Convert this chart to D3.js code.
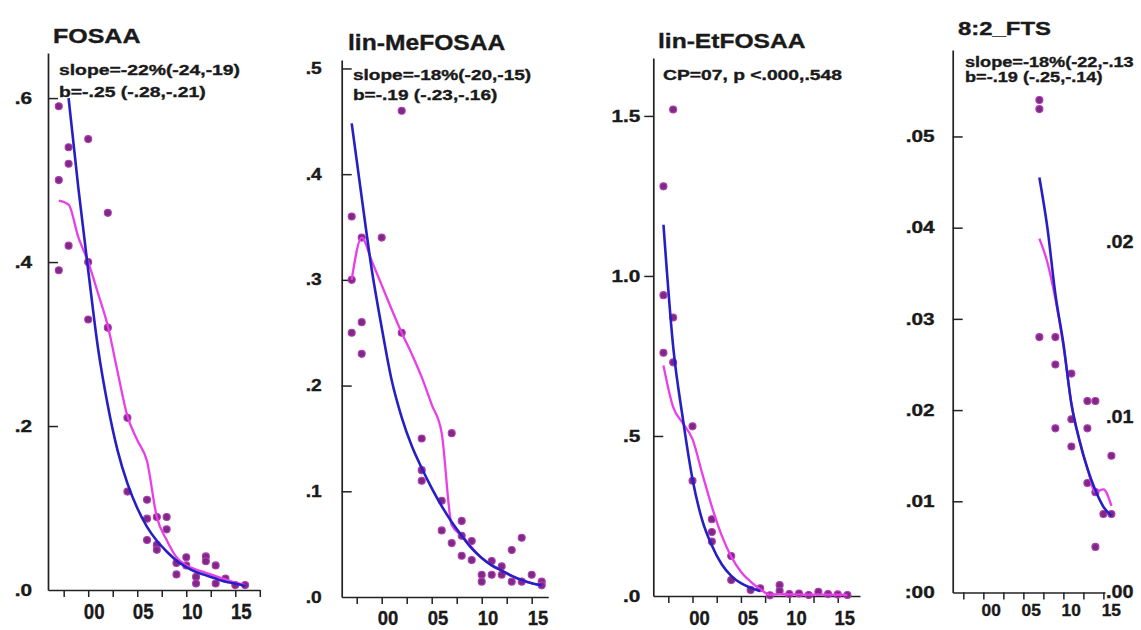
<!DOCTYPE html>
<html>
<head>
<meta charset="utf-8">
<script src="https://cdn.jsdelivr.net/npm/d3@7"></script>
<style>
  body { margin: 0; background: #fff; }
  svg text { font-family: "Liberation Sans", Arial, Helvetica, sans-serif; font-weight: bold; fill: #1a1a1a; stroke: #1a1a1a; stroke-width: 0.35px; }
</style>
</head>
<body>
<svg id="chart" width="1141" height="630"></svg>
<script>
// ---------- FOSAA ----------
const fosaaYears  = [1997,1997,1997,1998,1998,1998,2000,2000,2000,2002,2002,2004,2004,2006,2006,2006,2007,2007,2007,2008,2008,2009,2009,2010,2010,2011,2011,2012,2012,2013,2013,2014,2015,2016];
const fosaaValues = [0.59,0.50,0.39,0.54,0.52,0.42,0.55,0.40,0.33,0.46,0.32,0.21,0.12,0.11,0.087,0.061,0.089,0.055,0.049,0.089,0.074,0.033,0.019,0.040,0.030,0.016,0.008,0.041,0.035,0.030,0.008,0.014,0.006,0.006];
const fosaaFitYears = [1998,1999,2000,2001,2002,2003,2004,2005,2006,2007,2008,2009,2010,2011,2012,2013,2014,2015,2016];
const fosaaFit      = [0.60,0.49,0.39,0.295,0.225,0.17,0.13,0.10,0.077,0.060,0.047,0.036,0.028,0.022,0.018,0.014,0.010,0.008,0.005];
const fosaaSmoothYears = [1997,1998,1999,2000,2001,2002,2003,2004,2005,2006,2007,2008,2009,2010,2011,2012,2013,2014,2015,2016];
const fosaaSmooth      = [0.475,0.47,0.43,0.40,0.362,0.322,0.266,0.212,0.183,0.157,0.089,0.061,0.040,0.030,0.025,0.021,0.017,0.013,0.009,0.006];

// ---------- lin-MeFOSAA ----------
const meYears  = [1997,1997,1997,1998,1998,1998,2000,2002,2002,2004,2004,2004,2006,2006,2007,2007,2008,2008,2008,2009,2009,2010,2010,2011,2011,2012,2012,2013,2013,2014,2014,2015,2016,2016];
const meValues = [0.36,0.30,0.25,0.34,0.26,0.23,0.34,0.46,0.25,0.15,0.12,0.11,0.091,0.063,0.155,0.051,0.072,0.058,0.039,0.053,0.035,0.021,0.0145,0.034,0.021,0.029,0.021,0.0445,0.0145,0.056,0.0145,0.021,0.0145,0.011];
const meFitYears = [1997,1998,1999,2000,2001,2002,2003,2004,2005,2006,2007,2008,2009,2010,2011,2012,2013,2014,2015,2016];
const meFit      = [0.448,0.378,0.31,0.255,0.205,0.170,0.143,0.122,0.103,0.086,0.071,0.058,0.046,0.037,0.030,0.025,0.020,0.016,0.013,0.011];
const meSmoothYears = [1997,1998,1999,2000,2001,2002,2003,2004,2005,2006,2007,2008,2009,2010,2011,2012,2013,2014,2015,2016];
const meSmooth      = [0.30,0.34,0.318,0.295,0.272,0.25,0.23,0.208,0.182,0.155,0.068,0.058,0.047,0.037,0.030,0.025,0.020,0.016,0.013,0.011];

// ---------- lin-EtFOSAA ----------
const etYears  = [1997,1997,1997,1998,1998,1998,2000,2000,2002,2002,2002,2004,2004,2006,2007,2008,2009,2009,2010,2011,2012,2013,2014,2015,2016];
const etValues = [1.28,0.94,0.76,1.52,0.87,0.73,0.53,0.36,0.24,0.20,0.17,0.125,0.05,0.019,0.024,0.002,0.034,0.016,0.006,0.008,0.003,0.013,0.006,0.005,0.003];
const etFitYears = [1997,1998,1999,2000,2001,2002,2003,2004,2005,2006,2007];
const etFit      = [1.16,0.78,0.555,0.365,0.237,0.158,0.10,0.063,0.040,0.026,0.016];
const etSmoothYears = [1997,1998,1999,2000,2001,2002,2003,2004,2005,2006,2007,2008,2009,2010,2011,2012,2013,2014,2015,2016];
const etSmooth      = [0.72,0.59,0.54,0.49,0.383,0.279,0.19,0.123,0.076,0.045,0.021,0.004,0.006,0.005,0.005,0.004,0.005,0.004,0.004,0.003];

// ---------- 8:2_FTS ----------
const ftsYears  = [2007,2007,2007,2009,2009,2009,2011,2011,2011,2013,2013,2013,2014,2014,2014,2015,2016,2016];
const ftsValues = [0.054,0.053,0.028,0.028,0.025,0.018,0.024,0.019,0.016,0.021,0.018,0.012,0.021,0.011,0.005,0.0086,0.0086,0.015];
const ftsFitYears = [2007,2008,2009,2010,2011,2012,2013,2014,2015,2016];
const ftsFit      = [0.0455,0.0400,0.0327,0.0273,0.0207,0.0167,0.0136,0.0112,0.0094,0.0084];
const ftsSmoothYears = [2007,2008,2009,2010,2011,2012,2013,2014,2015,2016];
const ftsSmooth      = [0.0388,0.0362,0.0322,0.0271,0.0207,0.0167,0.0136,0.0110,0.0113,0.0095];

// ---------- titles, annotations, ticks ----------
const titles = ["FOSAA", "lin-MeFOSAA", "lin-EtFOSAA", "8:2_FTS"];
const notes = [
  ["slope=-22%(-24,-19)", "b=-.25 (-.28,-.21)"],
  ["slope=-18%(-20,-15)", "b=-.19 (-.23,-.16)"],
  ["CP=07, p <.000,.548"],
  ["slope=-18%(-22,-.13", "b=-.19 (-.25,-.14)"]
];
const xTickMarksLong = [1997.5,2000,2002.5,2005,2007.5,2010,2012.5,2015,2017.5];
const xTickMarks     = [1997.5,2000,2002.5,2005,2007.5,2010,2012.5,2015];
const xLabelYears = [2000, 2005, 2010, 2015];
const xLabels     = ["00", "05", "10", "15"];

const fosaaYTicks  = [0, 0.2, 0.4, 0.6];
const fosaaYLabels = [".0", ".2", ".4", ".6"];
const meYTicks  = [0, 0.1, 0.2, 0.3, 0.4, 0.5];
const meYLabels = [".0", ".1", ".2", ".3", ".4", ".5"];
const etYTicks  = [0, 0.5, 1.0, 1.5];
const etYLabels = [".0", ".5", "1.0", "1.5"];
const ftsYTicks  = [0, 0.01, 0.02, 0.03, 0.04, 0.05];
const ftsYLabels = [":00", ".01", ".02", ".03", ".04", ".05"];
const ftsRightTicks  = [0, 0.01, 0.02];
const ftsRightLabels = [".00", ".01", ".02"];

// ---------- panel assembly ----------
const zip = (a, b) => a.map((v, i) => [v, b[i]]);
const panels = [
  { pts: zip(fosaaYears, fosaaValues), fit: zip(fosaaFitYears, fosaaFit), smooth: zip(fosaaSmoothYears, fosaaSmooth),
    xTicks: xTickMarksLong, yTicks: fosaaYTicks, yLabels: fosaaYLabels },
  { pts: zip(meYears, meValues), fit: zip(meFitYears, meFit), smooth: zip(meSmoothYears, meSmooth),
    xTicks: xTickMarks, yTicks: meYTicks, yLabels: meYLabels },
  { pts: zip(etYears, etValues), fit: zip(etFitYears, etFit), smooth: zip(etSmoothYears, etSmooth),
    xTicks: xTickMarks, yTicks: etYTicks, yLabels: etYLabels },
  { pts: zip(ftsYears, ftsValues), fit: zip(ftsFitYears, ftsFit), smooth: zip(ftsSmoothYears, ftsSmooth),
    xTicks: xTickMarks, yTicks: ftsYTicks, yLabels: ftsYLabels }
];

// ---------- geometry & type per panel ----------
const layout = [
  { xDomain: [1995.9, 2017.5], left: 48, right: 259.8, bottom: 590, top: 53, yMax: 0.655,
    yPad: 16, ySize: 16, ySx: 1.3, xPad: 6, xSize: 22, xSx: 0.85, xDx: 6.5,
    title: { x: 53, y: 43, size: 20, sx: 1.25 },
    note: { x: 59, y: [75, 97], size: 15, sx: 1.29 } },
  { xDomain: [1996.0, 2016.65], left: 341.7, right: 548.2, bottom: 597, top: 60, yMax: 0.508,
    yPad: 20, ySize: 16, ySx: 1.2, xPad: 6, xSize: 21, xSx: 0.88, xDx: 6.5,
    title: { x: 348, y: 50, size: 22, sx: 1.12 },
    note: { x: 353, y: [80, 100], size: 15, sx: 1.27 } },
  { xDomain: [1995.95, 2017.3], left: 653.3, right: 860, bottom: 596, top: 58, yMax: 1.681,
    yPad: 13, ySize: 16, ySx: 1.3, xPad: 7, xSize: 21, xSx: 0.88, xDx: 7.5,
    title: { x: 658, y: 48, size: 20.5, sx: 1.2 },
    note: { x: 663, y: [80], size: 14.5, sx: 1.33 } },
  { xDomain: [1996.17, 2015.2], left: 952.7, right: 1105, bottom: 592.5, top: 50, yMax: 0.05948,
    yPad: 18, ySize: 16, ySx: 1.3, xPad: 5, xSize: 16.5, xSx: 1.05, xDx: 7,
    title: { x: 958, y: 35, size: 18, sx: 1.33 },
    note: { x: 965, y: [67, 82], size: 14.5, sx: 1.25 } }
];

const svg = d3.select("#chart");
svg.append("rect").attr("width", 1141).attr("height", 630).attr("fill", "#fff");

// horizontal stretch of a text node around its anchor point
function stretch(sel, sx) {
  sel.each(function () {
    const t = d3.select(this);
    const x = +t.attr("x") || 0, y = +t.attr("y") || 0;
    t.attr("x", 0).attr("y", 0).attr("transform", `translate(${x},${y}) scale(${sx},1)`);
  });
}

function styleAxis(g) {
  g.attr("font-size", null).attr("font-family", null);
  g.select(".domain").attr("stroke", "#222").attr("stroke-width", 1.7);
  g.selectAll(".tick line").attr("stroke", "#222").attr("stroke-width", 1.5);
}

panels.forEach((p, i) => {
  const L = layout[i];
  const g = svg.append("g");
  const x = d3.scaleLinear().domain(L.xDomain).range([L.left, L.right]);
  const y = d3.scaleLinear().domain([0, L.yMax]).range([L.bottom, L.top]);

  // x axis
  const xg = g.append("g").attr("transform", `translate(0,${L.bottom})`)
    .call(d3.axisBottom(x).tickValues(p.xTicks).tickSize(7).tickSizeOuter(0).tickPadding(L.xPad)
      .tickFormat(d => { const k = xLabelYears.indexOf(d); return k < 0 ? "" : xLabels[k]; }));
  styleAxis(xg);
  xg.selectAll(".tick text").style("font-size", L.xSize + "px").attr("dx", L.xDx);
  stretch(xg.selectAll(".tick text"), L.xSx);

  // y axis, ticks pointing into the plot
  const yg = g.append("g").attr("transform", `translate(${L.left},0)`)
    .call(d3.axisLeft(y).tickValues(p.yTicks).tickSize(-10).tickSizeOuter(0).tickPadding(L.yPad)
      .tickFormat(d => p.yLabels[p.yTicks.indexOf(d)]));
  styleAxis(yg);
  yg.selectAll(".tick").filter(d => d === 0).select("line").remove();
  if (i === 2) {
    // the upper ticks of this panel sit outside the axis
    yg.selectAll(".tick").filter(d => d >= 1).select("line").attr("x2", -9);
  }
  yg.selectAll(".tick text").style("font-size", L.ySize + "px");
  stretch(yg.selectAll(".tick text"), L.ySx);

  // observations
  g.append("g").selectAll("circle").data(p.pts).join("circle")
    .attr("cx", d => x(d[0])).attr("cy", d => y(d[1])).attr("r", 3.5)
    .attr("fill", "#7e2a84").attr("stroke", "#b03cb4").attr("stroke-width", 1.1);

  const line = d3.line().x(d => x(d[0])).y(d => y(d[1])).curve(d3.curveMonotoneX);
  g.append("path").datum(p.smooth).attr("d", line)
    .attr("fill", "none").attr("stroke", "#e83fe8").attr("stroke-width", 2.3).attr("stroke-linejoin", "round");
  g.append("path").datum(p.fit).attr("d", line)
    .attr("fill", "none").attr("stroke", "#2620c4").attr("stroke-width", 2.6).attr("stroke-linejoin", "round");

  // title
  const tt = g.append("text").attr("x", L.title.x).attr("y", L.title.y)
    .style("font-size", L.title.size + "px").text(titles[i]);
  stretch(tt, L.title.sx);

  // fit annotation
  notes[i].forEach((s, k) => {
    const nt = g.append("text").attr("x", L.note.x).attr("y", L.note.y[k])
      .style("font-size", L.note.size + "px").text(s);
    stretch(nt, L.note.sx);
  });

  // secondary scale labels on the right of the last panel
  if (i === 3) {
    const yr = d3.scaleLinear().domain([0, 0.02]).range([592, 242]);
    const rg = g.append("g").attr("transform", "translate(1106,0)")
      .call(d3.axisRight(yr).tickValues(ftsRightTicks).tickSize(0).tickPadding(0)
        .tickFormat(d => ftsRightLabels[ftsRightTicks.indexOf(d)]));
    rg.attr("font-size", null).attr("font-family", null);
    rg.select(".domain").remove();
    rg.selectAll(".tick text").style("font-size", "18px");
    stretch(rg.selectAll(".tick text"), 1.1);
  }
});
</script>
</body>
</html>
